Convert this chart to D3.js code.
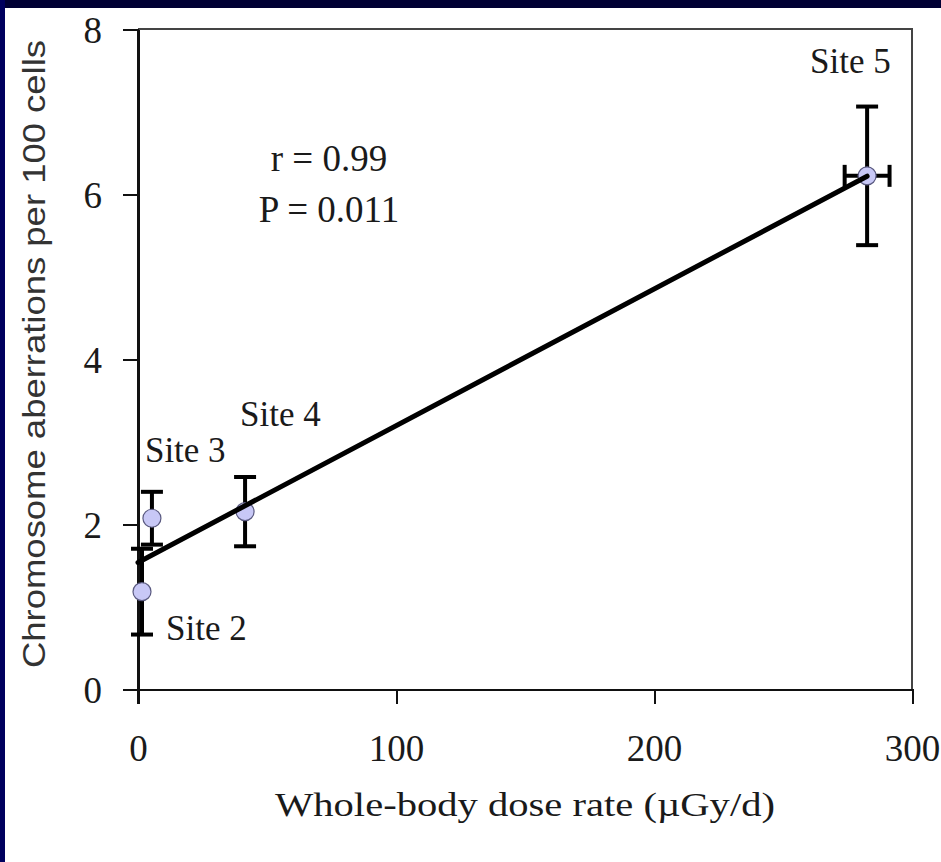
<!DOCTYPE html>
<html lang="en">
<head>
<meta charset="UTF-8">
<title>Chromosome aberrations vs dose rate</title>
<script src="https://d3js.org/d3.v7.min.js"></script>
<style>
    body { margin: 0; background: #fff; }
    svg { display: block; }
    .axis path, .axis line { stroke: #111; stroke-width: 2px; shape-rendering: crispEdges; }
    .axis text { font-family: "Liberation Serif", serif; font-size: 37px; fill: #1a1a1a; }
</style>
</head>
<body>
<svg width="941" height="862"></svg>
<script>
    // Data
    const sites = ["Site 2", "Site 3", "Site 4", "Site 5"];
    const doseRate = [1.55, 5.4, 41.5, 282.6];      // uGy/d
    const doseErr = [0, 0, 0, 8.7];
    const aberrations = [1.18, 2.07, 2.15, 6.22];   // per 100 cells
    const aberrErr = [0.52, 0.32, 0.42, 0.84];
    const xTicks = [0, 100, 200, 300];
    const yTicks = [0, 2, 4, 6, 8];
    const statLines = ["r = 0.99", "P = 0.011"];

    const svg = d3.select("svg"),
        margin = {top: 29, right: 29, bottom: 173, left: 138},
        width = +svg.attr("width") - margin.left - margin.right,
        height = +svg.attr("height") - margin.top - margin.bottom;

    // navy slide edge
    svg.append("rect").attr("x", 0).attr("y", 0).attr("width", 941).attr("height", 8).attr("fill", "#000034");
    svg.append("rect").attr("x", 0).attr("y", 0).attr("width", 5).attr("height", 862).attr("fill", "#00005e");

    const x = d3.scaleLinear().domain([0, 300]).range([0, width]);
    const y = d3.scaleLinear().domain([0, 8]).range([height, 0]);

    const g = svg.append("g").attr("transform", `translate(${margin.left},${margin.top})`);

    // frame top and right
    g.append("path")
        .attr("d", `M0,0H${width}V${height}`)
        .attr("fill", "none").attr("stroke", "#444").attr("stroke-width", 2)
        .attr("shape-rendering", "crispEdges");

    g.append("g")
        .attr("class", "axis axis--x")
        .attr("transform", `translate(0,${height})`)
        .call(d3.axisBottom(x).tickValues(xTicks).tickSize(15).tickSizeOuter(0).tickPadding(31));

    g.append("g")
        .attr("class", "axis axis--y")
        .call(d3.axisLeft(y).tickValues(yTicks).tickSize(15).tickSizeOuter(0).tickPadding(21))
        .call(a => a.selectAll(".tick text").attr("dy", "0.36em"));

    // y axis extends below the x axis
    g.append("line")
        .attr("x1", x(0)).attr("x2", x(0))
        .attr("y1", 0).attr("y2", height + 15)
        .attr("stroke", "#111").attr("stroke-width", 2).attr("shape-rendering", "crispEdges");

    const pts = sites.map((s, i) => ({
        name: s, x: doseRate[i], y: aberrations[i], ex: doseErr[i], ey: aberrErr[i]
    }));

    // error bars
    const cap = 11;
    const eb = g.append("g").attr("stroke", "#000").attr("stroke-width", 4).attr("fill", "none");
    pts.forEach(d => {
        eb.append("line")
            .attr("x1", x(d.x)).attr("x2", x(d.x))
            .attr("y1", y(d.y - d.ey)).attr("y2", y(d.y + d.ey));
        [d.y - d.ey, d.y + d.ey].forEach(v => {
            eb.append("line")
                .attr("x1", x(d.x) - cap).attr("x2", x(d.x) + cap)
                .attr("y1", y(v)).attr("y2", y(v));
        });
        if (d.ex > 0) {
            eb.append("line")
                .attr("x1", x(d.x - d.ex)).attr("x2", x(d.x + d.ex))
                .attr("y1", y(d.y)).attr("y2", y(d.y));
            [d.x - d.ex, d.x + d.ex].forEach(v => {
                eb.append("line")
                    .attr("x1", x(v)).attr("x2", x(v))
                    .attr("y1", y(d.y) - cap).attr("y2", y(d.y) + cap);
            });
        }
    });

    // points
    g.selectAll(".pt")
        .data(pts)
        .enter().append("circle")
        .attr("class", "pt")
        .attr("cx", d => x(d.x))
        .attr("cy", d => y(d.y))
        .attr("r", 9)
        .attr("fill", "#c8c8f6")
        .attr("stroke", "#5a5a80")
        .attr("stroke-width", 1.2);

    // least-squares line through the points
    const mx = d3.mean(doseRate), my = d3.mean(aberrations);
    const slope = d3.sum(doseRate, (v, i) => (v - mx) * (aberrations[i] - my)) /
        d3.sum(doseRate, v => (v - mx) * (v - mx));
    const intercept = my - slope * mx;
    const xEnd = d3.max(doseRate);
    g.append("line")
        .attr("x1", x(0)).attr("y1", y(intercept))
        .attr("x2", x(xEnd)).attr("y2", y(intercept + slope * xEnd))
        .attr("stroke", "#000").attr("stroke-width", 5).attr("stroke-linecap", "round");

    // site labels
    const labelPos = [
        {dx: 24, dy: 48},
        {dx: -7, dy: -56},
        {dx: -5, dy: -86},
        {dx: -57, dy: -103}
    ];
    g.selectAll(".site")
        .data(pts)
        .enter().append("text")
        .attr("class", "site")
        .attr("x", (d, i) => x(d.x) + labelPos[i].dx)
        .attr("y", (d, i) => y(d.y) + labelPos[i].dy)
        .attr("font-family", "Liberation Serif, serif")
        .attr("font-size", 35)
        .attr("fill", "#1a1a1a")
        .text(d => d.name);

    // stats
    g.selectAll(".stat")
        .data(statLines)
        .enter().append("text")
        .attr("class", "stat")
        .attr("x", x(74))
        .attr("y", (d, i) => 142 + i * 51)
        .attr("text-anchor", "middle")
        .attr("font-family", "Liberation Serif, serif")
        .attr("font-size", 37)
        .attr("fill", "#1a1a1a")
        .text(d => d);

    // axis titles
    svg.append("text")
        .attr("x", 525)
        .attr("y", 816)
        .attr("text-anchor", "middle")
        .attr("font-family", "Liberation Serif, serif")
        .attr("font-size", 34)
        .attr("fill", "#1a1a1a")
        .attr("textLength", 500)
        .attr("lengthAdjust", "spacingAndGlyphs")
        .text("Whole-body dose rate (\u00b5Gy/d)");

    svg.append("text")
        .attr("transform", `translate(45,354) rotate(-90)`)
        .attr("text-anchor", "middle")
        .attr("font-family", "Liberation Sans, Arial, sans-serif")
        .attr("font-size", 31)
        .attr("fill", "#333")
        .attr("textLength", 628)
        .attr("lengthAdjust", "spacingAndGlyphs")
        .text("Chromosome aberrations per 100 cells");
</script>
</body>
</html>
